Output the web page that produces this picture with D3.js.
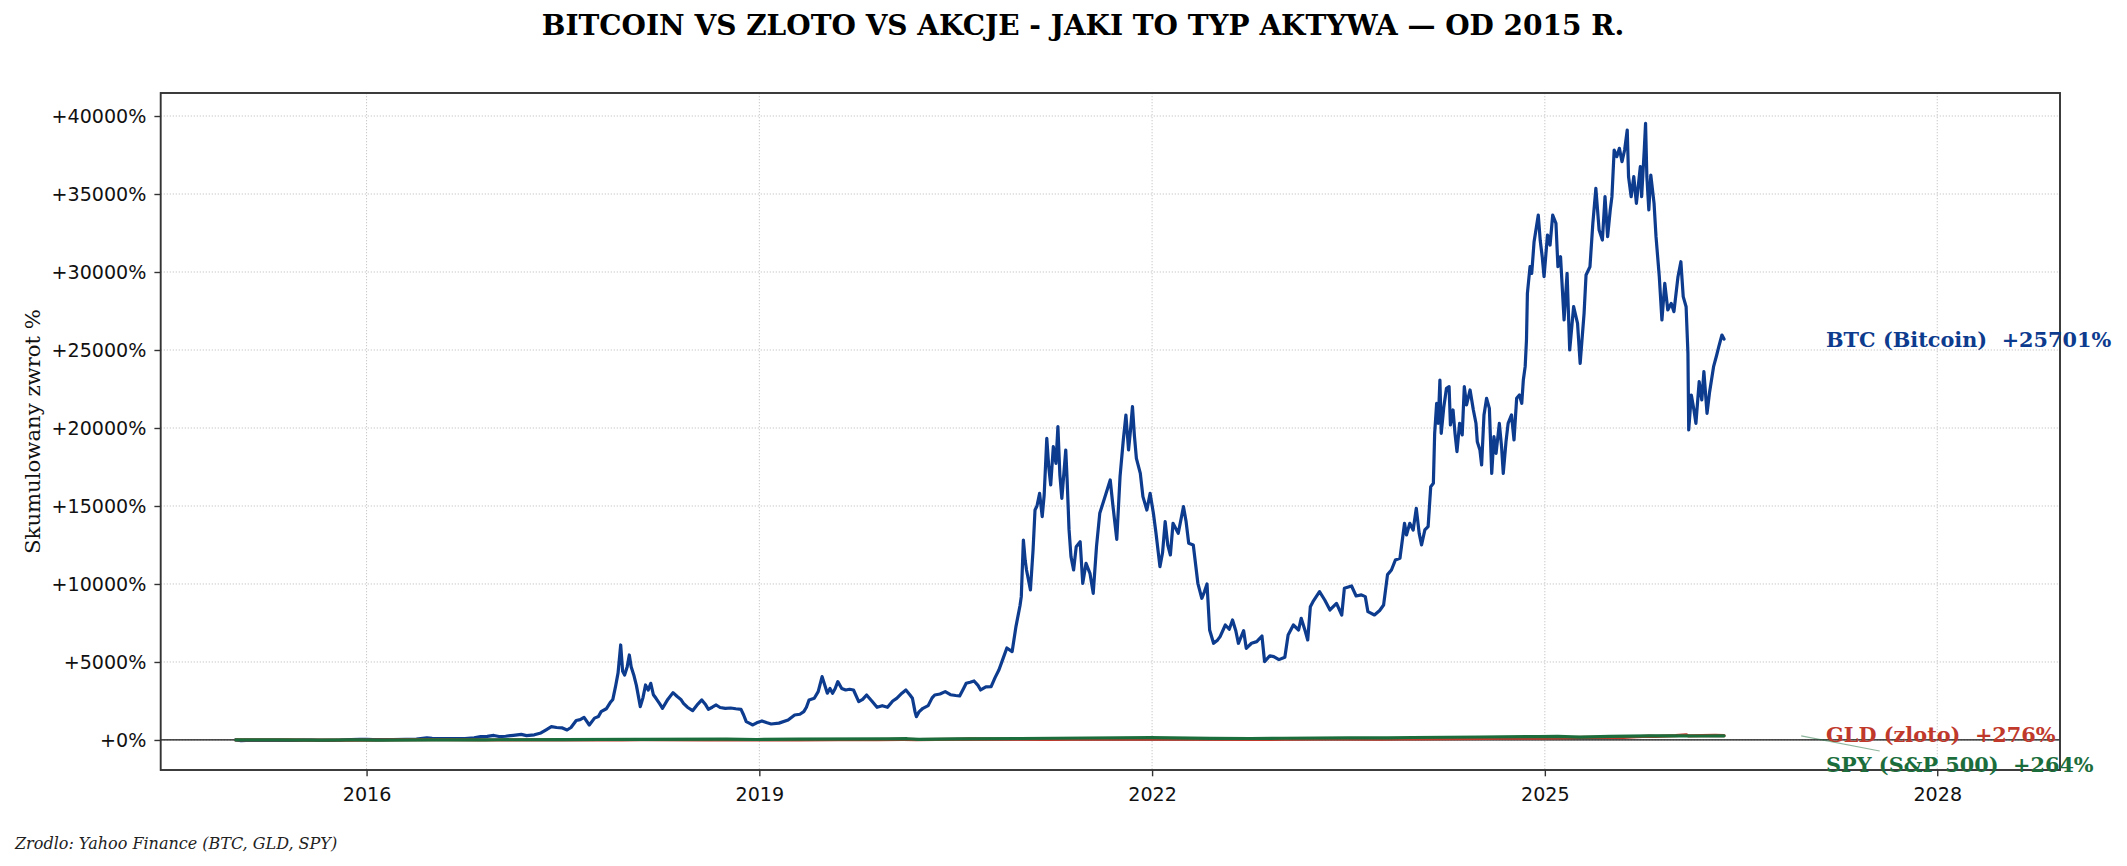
<!DOCTYPE html>
<html>
<head>
<meta charset="utf-8">
<script src="https://cdn.jsdelivr.net/npm/d3@7"></script>
<style>
  html, body { margin: 0; padding: 0; background: #ffffff; }
  svg { display: block; }
</style>
</head>
<body>
<svg id="chart" width="2127" height="866"></svg>
<script>
// ---------- DATA (decimal year, cumulative return %) ----------
const btcData = [
[2015.00,0],[2015.04,-40],[2015.08,-25],[2015.15,-22],[2015.25,-22],[2015.35,-25],[2015.45,-22],[2015.52,-10],[2015.58,-5],[2015.63,-25],[2015.72,-25],[2015.80,-10],[2015.84,15],[2015.88,25],[2015.95,38],
[2016.00,35],[2016.05,20],[2016.12,28],[2016.20,30],[2016.30,40],[2016.38,55],[2016.46,140],[2016.50,105],[2016.58,85],[2016.66,80],[2016.75,95],[2016.82,130],[2016.87,210],[2016.92,230],[2016.97,290],
[2017.01,220],[2017.06,240],[2017.12,300],[2017.18,360],[2017.22,280],[2017.28,330],[2017.33,450],[2017.37,650],[2017.41,855],[2017.45,800],[2017.49,780],[2017.53,640],[2017.56,800],[2017.60,1250],[2017.63,1300],[2017.66,1450],[2017.70,960],[2017.74,1400],[2017.77,1500],[2017.79,1816],[2017.83,2000],[2017.86,2400],[2017.88,2600],[2017.90,3400],[2017.92,4300],[2017.94,6090],[2017.955,4400],[2017.97,4167],[2017.99,4700],
[2018.006,5450],[2018.02,4700],[2018.04,4167],[2018.06,3500],[2018.09,2137],[2018.11,2700],[2018.13,3526],[2018.15,3200],[2018.17,3632],[2018.19,2900],[2018.21,2671],[2018.24,2300],[2018.26,2030],[2018.30,2600],[2018.34,3034],[2018.37,2800],[2018.40,2600],[2018.42,2350],[2018.45,2100],[2018.49,1880],[2018.53,2300],[2018.56,2564],[2018.59,2250],[2018.61,1966],[2018.64,2100],[2018.67,2244],[2018.70,2080],[2018.74,2030],[2018.78,2050],[2018.82,2000],[2018.86,1966],[2018.88,1600],[2018.90,1175],[2018.93,1050],[2018.95,962],[2018.98,1100],
[2019.02,1218],[2019.06,1100],[2019.09,1026],[2019.15,1080],[2019.22,1282],[2019.27,1603],[2019.31,1650],[2019.34,1816],[2019.36,2100],[2019.38,2564],[2019.42,2671],[2019.45,3100],[2019.48,4060],[2019.50,3526],[2019.52,3000],[2019.54,3300],[2019.56,2992],[2019.58,3300],[2019.60,3739],[2019.63,3300],[2019.66,3205],[2019.69,3250],[2019.72,3205],[2019.76,2457],[2019.79,2600],[2019.82,2885],[2019.86,2500],[2019.90,2094],[2019.94,2200],[2019.98,2094],
[2020.02,2500],[2020.05,2671],[2020.09,3000],[2020.12,3205],[2020.15,2900],[2020.17,2671],[2020.19,1800],[2020.20,1496],[2020.22,1800],[2020.25,2030],[2020.29,2200],[2020.32,2700],[2020.34,2885],[2020.38,2950],[2020.42,3098],[2020.46,2900],[2020.50,2850],[2020.53,2820],[2020.56,3300],[2020.58,3632],[2020.61,3700],[2020.64,3782],[2020.67,3500],[2020.69,3205],[2020.73,3400],[2020.77,3419],[2020.80,3995],[2020.83,4500],[2020.86,5200],[2020.89,5900],[2020.93,5663],[2020.96,7300],[2020.99,8600],
[2021.00,9188],[2021.016,12820],[2021.03,11500],[2021.04,10897],[2021.07,9615],[2021.09,12179],[2021.105,14743],[2021.12,15000],[2021.14,15812],[2021.16,14316],[2021.175,15705],[2021.195,19338],[2021.21,17500],[2021.225,16346],[2021.245,18803],[2021.265,17735],[2021.28,20085],[2021.295,17000],[2021.31,15492],[2021.34,18589],[2021.35,16774],[2021.365,13500],[2021.38,11752],[2021.40,10897],[2021.42,12393],[2021.45,12714],[2021.47,10043],[2021.495,11324],[2021.525,10684],[2021.55,9402],[2021.575,12393],[2021.60,14530],[2021.64,15598],[2021.68,16666],[2021.70,15064],[2021.73,12863],[2021.755,16880],[2021.78,19230],[2021.80,20833],[2021.82,18589],[2021.835,19871],[2021.85,21367],[2021.865,19500],[2021.88,18055],[2021.91,17094],[2021.93,15598],[2021.96,14743],[2021.985,15812],
[2022.01,14530],[2022.03,13248],[2022.06,11111],[2022.08,12000],[2022.10,13995],[2022.12,12500],[2022.14,11859],[2022.16,13889],[2022.20,13248],[2022.24,14957],[2022.26,14000],[2022.28,12607],[2022.315,12500],[2022.35,10043],[2022.38,9081],[2022.40,9500],[2022.42,10000],[2022.44,7051],[2022.47,6197],[2022.50,6400],[2022.52,6624],[2022.56,7372],[2022.59,7100],[2022.615,7692],[2022.64,7000],[2022.66,6197],[2022.70,7008],[2022.72,5876],[2022.76,6200],[2022.80,6303],[2022.84,6666],[2022.86,5021],[2022.90,5400],[2022.93,5342],[2022.97,5150],
[2023.015,5300],[2023.04,6730],[2023.08,7372],[2023.12,7051],[2023.14,7799],[2023.17,7000],[2023.19,6410],[2023.21,8547],[2023.23,8868],[2023.28,9508],[2023.32,8974],[2023.36,8333],[2023.41,8760],[2023.45,8013],[2023.47,9722],[2023.525,9871],[2023.56,9230],[2023.60,9300],[2023.63,9188],[2023.65,8226],[2023.70,8013],[2023.74,8300],[2023.77,8654],[2023.80,10600],[2023.83,10897],[2023.86,11538],[2023.895,11645],[2023.93,13889],[2023.945,13141],[2023.97,13889],[2023.996,13461],
[2024.02,14850],[2024.042,13248],[2024.06,12500],[2024.085,13461],[2024.11,13675],[2024.13,16239],[2024.15,16452],[2024.16,19658],[2024.175,21581],[2024.187,20300],[2024.20,23077],[2024.21,19658],[2024.23,21367],[2024.25,22543],[2024.27,22650],[2024.28,20192],[2024.30,21154],[2024.315,19658],[2024.33,18483],[2024.35,20299],[2024.37,19551],[2024.386,22650],[2024.403,21474],[2024.43,22436],[2024.455,21154],[2024.475,20300],[2024.485,19124],[2024.505,18590],[2024.518,17628],[2024.536,20834],[2024.556,21901],[2024.577,21260],[2024.595,17094],[2024.612,19444],[2024.628,18376],[2024.653,20300],[2024.67,18803],[2024.683,17094],[2024.704,19124],[2024.72,20300],[2024.746,20834],[2024.765,19231],[2024.785,21901],[2024.806,22115],[2024.824,21581],[2024.836,23077],[2024.85,23932],[2024.86,25641],[2024.867,28632],[2024.887,30340],[2024.90,29913],[2024.918,31943],[2024.95,33653],[2024.965,32000],[2024.98,30982],[2024.994,29700],
[2025.02,32371],[2025.04,31730],[2025.06,33653],[2025.085,33120],[2025.10,30340],[2025.12,30982],[2025.147,26922],[2025.17,29913],[2025.19,25000],[2025.22,27776],[2025.25,26709],[2025.27,24146],[2025.30,27349],[2025.315,29807],[2025.345,30340],[2025.367,33120],[2025.39,35363],[2025.415,32692],[2025.44,32051],[2025.46,34829],[2025.48,32265],[2025.50,33974],[2025.513,34829],[2025.53,37820],[2025.55,37393],[2025.57,37927],[2025.59,37073],[2025.61,37820],[2025.63,39100],[2025.64,36111],[2025.66,34829],[2025.68,36111],[2025.70,34401],[2025.73,36752],[2025.74,34829],[2025.76,37820],[2025.77,39530],[2025.78,36111],[2025.795,33974],[2025.81,36218],[2025.835,34401],[2025.85,32265],[2025.875,29700],[2025.895,26922],[2025.917,29273],[2025.94,27563],[2025.966,27990],[2025.987,27456],
[2026.018,29700],[2026.04,30660],[2026.058,28419],[2026.08,27776],[2026.094,24787],[2026.10,19871],[2026.12,22115],[2026.14,21153],[2026.155,20300],[2026.18,22970],[2026.20,21794],[2026.216,23610],[2026.24,20940],[2026.26,22329],[2026.29,23931],[2026.314,24679],[2026.33,25213],[2026.354,25960],[2026.37,25701]
];

const gldData = [
[2015.00,0],[2015.08,8],[2015.20,0],[2015.40,0],[2015.55,-8],[2015.62,-6],[2015.90,-10],[2016.00,-8],[2016.15,5],[2016.50,20],[2016.60,20],[2016.85,3],[2016.95,-3],
[2017.30,8],[2017.50,5],[2017.70,12],[2017.95,8],[2018.10,14],[2018.60,0],[2018.70,-1],[2019.00,8],[2019.30,6],[2019.60,25],[2019.90,25],
[2020.10,32],[2020.20,25],[2020.50,45],[2020.60,70],[2020.80,55],[2021.00,55],[2021.20,40],[2021.40,55],[2021.60,45],[2021.90,47],
[2022.20,60],[2022.80,35],[2023.00,48],[2023.35,62],[2023.75,50],[2023.90,65],[2024.00,65],[2024.30,85],[2024.55,100],[2024.80,125],[2024.95,110],
[2025.10,130],[2025.30,165],[2025.50,170],[2025.60,170],[2025.70,205],[2025.80,250],[2025.85,235],[2026.00,275],[2026.08,330],[2026.10,260],[2026.20,285],[2026.30,300],[2026.37,276]
];

const spyData = [
[2015.00,0],[2015.30,3],[2015.65,-6],[2015.90,1],[2016.10,-8],[2016.50,5],[2016.90,12],[2017.00,14],[2017.50,25],[2018.05,45],[2018.10,35],[2018.75,50],[2018.98,30],
[2019.30,50],[2019.99,70],[2020.13,80],[2020.22,35],[2020.50,70],[2020.99,95],[2021.50,125],[2021.99,150],[2022.45,100],[2022.75,95],[2022.99,110],
[2023.50,140],[2023.80,130],[2023.99,160],[2024.50,190],[2024.95,220],[2025.10,230],[2025.27,185],[2025.50,230],[2025.80,260],[2025.99,265],[2026.20,255],[2026.37,264]
];

const seriesNames  = ["BTC (Bitcoin)", "GLD (zloto)", "SPY (S&P 500)"];
const finalReturns = [25701, 276, 264];
const labelYValues = [25701, 320, -1600];   // label anchor (return %) after de-overlap
const xTickYears   = [2016, 2019, 2022, 2025, 2028];
const yTickValues  = [0, 5000, 10000, 15000, 20000, 25000, 30000, 35000, 40000];

const titleText  = "BITCOIN VS ZLOTO VS AKCJE - JAKI TO TYP AKTYWA \u2014 OD 2015 R.";
const yLabelText = "Skumulowany zwrot %";
const sourceText = "Zrodlo: Yahoo Finance (BTC, GLD, SPY)";

// ---------- LAYOUT / STYLE ----------
const W = 2127, H = 866;
const M = {left: 160.7, right: 2060, top: 93, bottom: 770};
const colors = ["#0d3b8e", "#c0392b", "#1b6e3c"];
const serif = "'DejaVu Serif', 'Liberation Serif', serif";
const sans  = "'DejaVu Sans', 'Liberation Sans', sans-serif";

function dy(t) {
  const y = Math.floor(t);
  const s = Date.UTC(y, 0, 1), e = Date.UTC(y + 1, 0, 1);
  return new Date(s + (t - y) * (e - s));
}

const svg = d3.select("#chart");
svg.append("rect").attr("width", W).attr("height", H).attr("fill", "#fff");

const x = d3.scaleUtc().domain([dy(2014.426), dy(2028.936)]).range([M.left, M.right]);
const y = d3.scaleLinear().domain([-1925, 41475]).range([M.bottom, M.top]);

// clip
svg.append("defs").append("clipPath").attr("id", "plotclip")
  .append("rect").attr("x", M.left).attr("y", M.top)
  .attr("width", M.right - M.left).attr("height", M.bottom - M.top);

// grid
const grid = svg.append("g");
grid.selectAll("line.gx").data(xTickYears).join("line")
  .attr("x1", d => x(dy(d))).attr("x2", d => x(dy(d)))
  .attr("y1", M.top).attr("y2", M.bottom)
  .attr("stroke", "#c8c8c8").attr("stroke-width", 1).attr("stroke-dasharray", "1.3,1.7");
grid.selectAll("line.gy").data(yTickValues).join("line")
  .attr("x1", M.left).attr("x2", M.right)
  .attr("y1", d => y(d)).attr("y2", d => y(d))
  .attr("stroke", "#c8c8c8").attr("stroke-width", 1).attr("stroke-dasharray", "1.3,1.7");

// zero line
svg.append("line")
  .attr("x1", M.left).attr("x2", M.right)
  .attr("y1", y(0)).attr("y2", y(0))
  .attr("stroke", "#111").attr("stroke-width", 1.3);

// series
const lineGen = d3.line().x(d => x(dy(d[0]))).y(d => y(d[1]));
const plot = svg.append("g").attr("clip-path", "url(#plotclip)");
[btcData, gldData, spyData].forEach((data, i) => {
  plot.append("path").datum(data)
    .attr("d", lineGen)
    .attr("fill", "none")
    .attr("stroke", colors[i])
    .attr("stroke-width", 3.2)
    .attr("stroke-linejoin", "round")
    .attr("stroke-linecap", "round");
});

// axes
const xAxis = d3.axisBottom(x).tickValues(xTickYears.map(dy))
  .tickFormat(d3.utcFormat("%Y")).tickSize(6.3).tickPadding(10.7);
const yAxis = d3.axisLeft(y).tickValues(yTickValues)
  .tickFormat(d => "+" + d + "%").tickSize(6.3).tickPadding(8);

const gx = svg.append("g").attr("transform", `translate(0,${M.bottom})`).call(xAxis);
const gy = svg.append("g").attr("transform", `translate(${M.left},0)`).call(yAxis);
[gx, gy].forEach(g => {
  g.select(".domain").remove();
  g.selectAll(".tick line").attr("stroke", "#333").attr("stroke-width", 1.4);
  g.selectAll(".tick text").attr("fill", "#111").style("font-family", sans).style("font-size", "19.1px");
});

// frame (spines)
svg.append("rect")
  .attr("x", M.left).attr("y", M.top)
  .attr("width", M.right - M.left).attr("height", M.bottom - M.top)
  .attr("fill", "none").attr("stroke", "#333").attr("stroke-width", 1.9);

// end labels
const lastT = btcData[btcData.length - 1][0];
const labelT = lastT + 0.78;
seriesNames.forEach((name, i) => {
  svg.append("text")
    .attr("x", x(dy(labelT)))
    .attr("y", y(labelYValues[i]))
    .attr("dy", "0.36em")
    .attr("fill", colors[i])
    .style("font-family", serif)
    .style("font-weight", "bold")
    .style("font-size", "20.8px")
    .style("white-space", "pre")
    .text(name + "\u00a0\u00a0+" + finalReturns[i] + "%");
});
// connector for displaced SPY label
svg.append("line")
  .attr("x1", x(dy(lastT + 0.59))).attr("y1", y(finalReturns[2]))
  .attr("x2", x(dy(lastT + 1.19))).attr("y2", y(-705))
  .attr("stroke", colors[2]).attr("stroke-opacity", 0.5).attr("stroke-width", 1.2);

// title
svg.append("text")
  .attr("x", 1083).attr("y", 35)
  .attr("text-anchor", "middle")
  .attr("fill", "#000")
  .style("font-family", serif).style("font-weight", "bold").style("font-size", "28px")
  .text(titleText);

// y label
svg.append("text")
  .attr("transform", `translate(33,${(M.top + M.bottom) / 2}) rotate(-90)`)
  .attr("text-anchor", "middle").attr("dy", "0.35em")
  .attr("fill", "#111")
  .style("font-family", serif).style("font-size", "21.2px")
  .text(yLabelText);

// source
svg.append("text")
  .attr("x", 15).attr("y", 849)
  .attr("fill", "#222")
  .style("font-family", serif).style("font-style", "italic").style("font-size", "16px")
  .text(sourceText);
</script>
</body>
</html>
